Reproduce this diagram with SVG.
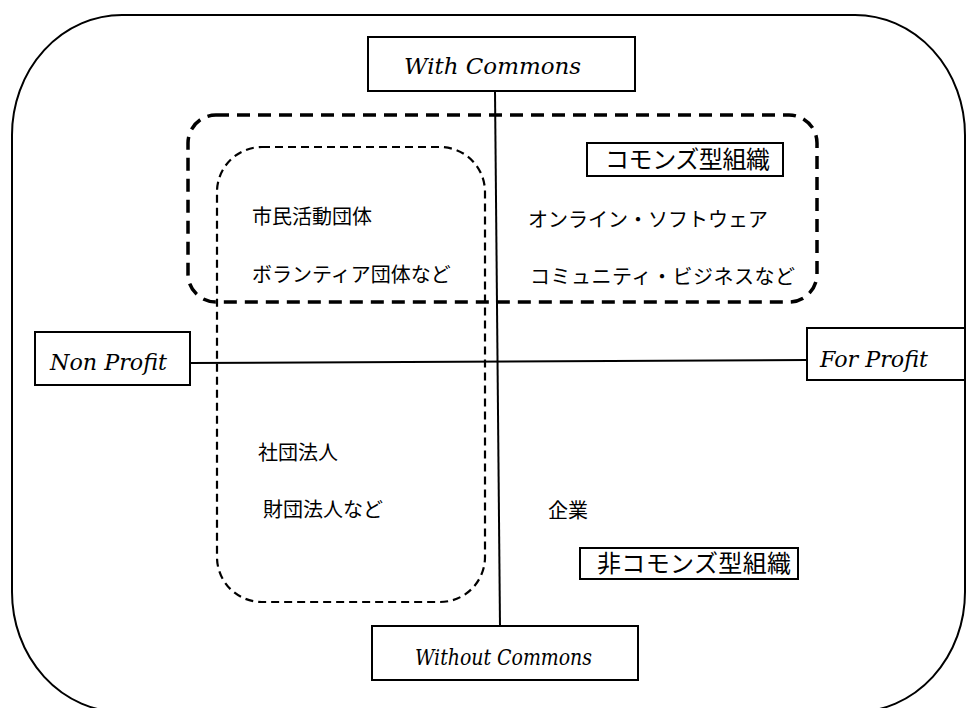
<svg xmlns="http://www.w3.org/2000/svg" width="974" height="708" viewBox="0 0 974 708">
<style>
.box{fill:#fff;stroke:#000;stroke-width:2}
.lbl{font-family:"DejaVu Serif","Liberation Serif",serif;font-style:italic;font-size:22px;fill:#000}
.jp{font-family:"Noto Sans CJK JP","Noto Sans",sans-serif;font-size:20px;fill:#000}
.jpb{font-family:"Noto Sans CJK JP","Noto Sans",sans-serif;font-size:24px;fill:#000}
.axis{stroke:#000;stroke-width:2;fill:none}
.dashA{fill:none;stroke:#000;stroke-width:3.5;stroke-dasharray:13 8}
.dashB{fill:none;stroke:#000;stroke-width:2.2;stroke-dasharray:8 5}
</style>
<rect width="974" height="708" fill="#fff"/>
<rect id="frame" x="12" y="15" width="953" height="697" rx="110" ry="120" fill="none" stroke="#000" stroke-width="2"/>
<g id="connectors">
<line class="axis" x1="495" y1="91" x2="500" y2="626"/>
<line class="axis" x1="190" y1="363" x2="807" y2="360"/>
</g>
<g id="commons-group"><rect class="dashA" x="188" y="115" width="629" height="187" rx="28" ry="28"/></g>
<g id="nonprofit-group"><rect class="dashB" x="217" y="147" width="268" height="455" rx="45" ry="45"/></g>
<g id="with-commons"><rect class="box" x="368" y="37" width="267" height="54"/><text class="lbl" x="404" y="74" textLength="177" lengthAdjust="spacingAndGlyphs">With Commons</text></g>
<g id="without-commons"><rect class="box" x="372" y="626" width="266" height="54"/><text class="lbl" x="415" y="665" textLength="177" lengthAdjust="spacingAndGlyphs">Without Commons</text></g>
<g id="non-profit"><rect class="box" x="35" y="332" width="155" height="53"/><text class="lbl" x="50" y="370" textLength="117" lengthAdjust="spacingAndGlyphs">Non Profit</text></g>
<g id="for-profit"><rect class="box" x="807" y="328" width="158" height="52"/><text class="lbl" x="820" y="367" textLength="108" lengthAdjust="spacingAndGlyphs">For Profit</text></g>
<g id="commons-org"><rect class="box" x="587" y="143" width="196" height="33"/><text class="jpb" x="605" y="168" textLength="165">コモンズ型組織</text></g>
<g id="non-commons-org"><rect class="box" x="580" y="548" width="218" height="31"/><text class="jpb" x="597" y="572" textLength="194">非コモンズ型組織</text></g>
<g id="civic"><text class="jp" x="252" y="224">市民活動団体</text><text class="jp" x="252" y="282">ボランティア団体など</text></g>
<g id="online"><text class="jp" x="528" y="227">オンライン・ソフトウェア</text><text class="jp" x="530" y="284" textLength="265">コミュニティ・ビジネスなど</text></g>
<g id="corporate"><text class="jp" x="258" y="460">社団法人</text><text class="jp" x="263" y="517">財団法人など</text></g>
<g id="company"><text class="jp" x="548" y="518">企業</text></g>
</svg>
